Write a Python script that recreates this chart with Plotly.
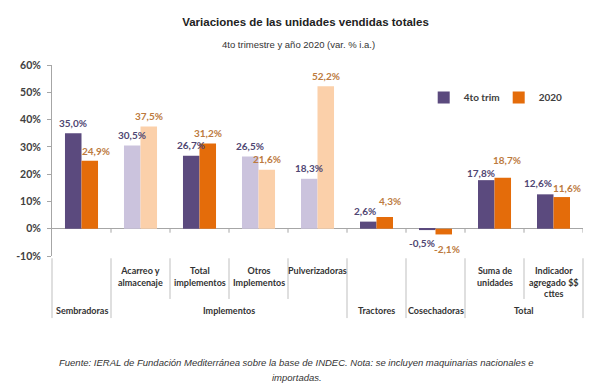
import plotly.graph_objects as go

# ---- data ----
categories = ["Sembradoras", "Acarreo y<br>almacenaje", "Total<br>implementos", "Otros<br>Implementos",
              "Pulverizadoras", "Tractores", "Cosechadoras", "Suma de<br>unidades",
              "Indicador<br>agregado $$<br>cttes"]
sub_label_shown = [False, True, True, True, True, False, False, True, True]
groups = ["Sembradoras", "Implementos", "Tractores", "Cosechadoras", "Total"]
group_spans = [(0, 0), (1, 4), (5, 5), (6, 6), (7, 8)]
light = [False, True, False, True, True, False, False, False, False]
series_names = ["4to trim", "2020"]
trim4 = [35.0, 30.5, 26.7, 26.5, 18.3, 2.6, -0.5, 17.8, 12.6]
y2020 = [24.9, 37.5, 31.2, 21.6, 52.2, 4.3, -2.1, 18.7, 11.6]
y_ticks = [-10, 0, 10, 20, 30, 40, 50, 60]
footer_lines = ["Fuente: IERAL de Fundación Mediterránea sobre la base de INDEC. Nota: se incluyen maquinarias nacionales e",
                "importadas."]

# ---- styles ----
PURPLE, PURPLE_L = "#5B4A7E", "#CBC3DD"
ORANGE, ORANGE_L = "#E46C0A", "#FBD0AA"
PURPLE_T, ORANGE_T = "#4F4672", "#BC7A3E"
LABEL_FONT = "Lato"
# label nudges (px) to mimic the reference placement
dx_trim = [0, 0, 0, 0, 0, -3, -5, -5, -7]
dy_trim = [0, 0, 0, 0, 0, 0, 0, -3, 1]
dx_2020 = [6, 0, 0, 0, 0, 5, 3, 4, 5]
dy_2020 = [-1, 0, 0, 0, 0, 5, -2, 7.5, -1]

OFF = 8  # browser body margin
W, H = 603 - OFF, 391 - OFF

def fmt(v):
    return f"{v:.1f}".replace(".", ",") + "%"

xs = list(range(len(categories)))
fig = go.Figure()
fig.add_trace(go.Bar(
    x=xs, y=trim4, name=series_names[0],
    marker=dict(color=[PURPLE_L if l else PURPLE for l in light], line=dict(width=0)),
    hoverinfo="skip"))
fig.add_trace(go.Bar(
    x=xs, y=y2020, name=series_names[1],
    marker=dict(color=[ORANGE_L if l else ORANGE for l in light], line=dict(width=0)),
    hoverinfo="skip"))

n = len(categories)
shapes = []
for k in range(1, n + 1):
    shapes.append(dict(type="line", xref="x", yref="y", x0=k - 0.5, x1=k - 0.5,
                       ysizemode="pixel", yanchor=0, y0=0, y1=-4,
                       line=dict(color="#A6A6A6", width=1)))
full = {0, 1, 5, 6, 7, 9}
for k in range(n + 1):
    shapes.append(dict(type="line", xref="paper", yref="paper", x0=k / n, x1=k / n,
                       y0=-0.012, y1=(-0.325 if k in full else -0.225),
                       line=dict(color="#BFBFBF", width=1)))

annotations = []
half = 0.14
for vals, sign, dxs, dys, col in [(trim4, -1, dx_trim, dy_trim, PURPLE_T),
                                  (y2020, 1, dx_2020, dy_2020, ORANGE_T)]:
    for i, v in enumerate(vals):
        annotations.append(dict(
            x=i + sign * half, y=v, xref="x", yref="y", text=fmt(v), showarrow=False,
            xanchor="center", yanchor="middle", xshift=dxs[i],
            yshift=(10.5 + dys[i]) if v >= 0 else (-12.5 + dys[i]),
            font=dict(family=LABEL_FONT, size=10, color=col, weight="bold")))

for i, (c, show) in enumerate(zip(categories, sub_label_shown)):
    if show:
        annotations.append(dict(x=i, y=-0.035, xref="x", yref="paper", text=c, showarrow=False,
                                yanchor="top", xanchor="center",
                                font=dict(family=LABEL_FONT, size=9, color="#333333", weight="bold")))
for g, (a, b) in zip(groups, group_spans):
    annotations.append(dict(x=(a + b) / 2, y=-0.283, xref="x", yref="paper", text=g, showarrow=False,
                            yanchor="middle", xanchor="center",
                            font=dict(family=LABEL_FONT, size=9, color="#333333", weight="bold")))
annotations.append(dict(x=0.465, y=1.105, xref="paper", yref="paper", showarrow=False,
                        text="4to trimestre y año 2020 (var. % i.a.)", yanchor="middle",
                        font=dict(family="Liberation Sans", size=9.5, color="#333333")))
for j, (line, yy) in enumerate(zip(footer_lines, [-0.56, -0.638])):
    annotations.append(dict(x=0.461, y=yy, xref="paper", yref="paper", showarrow=False,
                            text=f"<i>{line}</i>", yanchor="middle", align="center",
                            font=dict(family="Liberation Sans", size=9.5, color="#333333")))

fig.update_layout(
    width=W, height=H,
    margin=dict(l=52 - OFF, r=20, t=65 - OFF, b=135, autoexpand=False),
    paper_bgcolor="white", plot_bgcolor="white",
    barmode="group", bargap=0.44, bargroupgap=0,
    title=dict(text="<b>Variaciones de las unidades vendidas totales</b>", x=0.5, xanchor="center",
               y=1 - (22 - OFF) / H, yanchor="middle", yref="container",
               font=dict(family="Liberation Sans", size=11.5, color="#222222")),
    xaxis=dict(range=[-0.5, n - 0.5], showticklabels=False, showgrid=False, zeroline=False,
               showline=False, ticks=""),
    yaxis=dict(range=[-10, 60], tickvals=y_ticks, ticktext=[f"{t}%" for t in y_ticks],
               showgrid=False, showline=True, linecolor="#A6A6A6", linewidth=1,
               ticks="outside", ticklen=4, tickcolor="#A6A6A6", ticklabelstandoff=4,
               zeroline=True, zerolinecolor="#A6A6A6", zerolinewidth=1,
               tickfont=dict(family=LABEL_FONT, size=10.5, color="#404040", weight="bold")),
    legend=dict(orientation="h", x=0.70, y=0.83, xanchor="left", yanchor="middle",
                font=dict(family=LABEL_FONT, size=10, color="#404040", weight="bold"),
                itemwidth=30, entrywidth=30, bgcolor="rgba(0,0,0,0)"),
    shapes=shapes, annotations=annotations,
)
fig.write_html("out.html")
